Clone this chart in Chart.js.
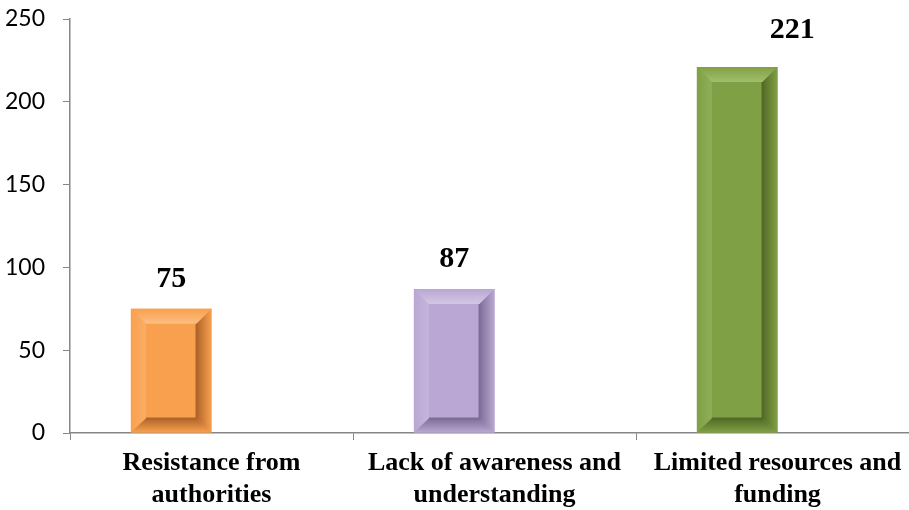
<!DOCTYPE html>
<html>
<head>
<meta charset="utf-8">
<script src="https://cdn.jsdelivr.net/npm/chart.js@4/dist/chart.umd.min.js"></script>
<style>
    html, body { margin: 0; padding: 0; overflow: hidden; background: #fff; }
    #wrap { width: 920px; height: 510px; }
</style>
</head>
<body>
<div id="wrap"><canvas id="barChart"></canvas></div>
<script>
const categories = [
    ["Resistance from", "authorities"],
    ["Lack of awareness and", "understanding"],
    ["Limited resources and", "funding"],
];
const counts = [75, 87, 221];
const yTicks = [0, 50, 100, 150, 200, 250];

// face colours of each bar
const faceColors = ["#F9A04E", "#BAA7D3", "#80A045"];
const lightColors = ["#FBBE84", "#D3C6E4", "#A2BE6E"];
const darkColors = ["#B0652A", "#7E6E96", "#536B28"];
// value label nudges (dx, dy) as placed in the original
const labelNudge = [[0, -30], [0, -30], [55, -37]];

// draws the bevelled frame on top of each bar
const bevelPlugin = {
    id: "bevel",
    afterDatasetsDraw(chart) {
        const ctx = chart.ctx;
        const meta = chart.getDatasetMeta(0);
        meta.data.forEach((bar, i) => {
            const l = bar.x - bar.width / 2;
            const r = bar.x + bar.width / 2;
            const t = bar.y;
            const b = bar.base;
            const s = 15;
            ctx.save();
            // top
            let g = ctx.createLinearGradient(0, t, 0, t + s);
            g.addColorStop(0, faceColors[i]);
            g.addColorStop(1, lightColors[i]);
            ctx.fillStyle = g;
            ctx.beginPath();
            ctx.moveTo(l, t); ctx.lineTo(r, t); ctx.lineTo(r - s, t + s); ctx.lineTo(l + s, t + s);
            ctx.fill();
            // left
            g = ctx.createLinearGradient(l, 0, l + s, 0);
            g.addColorStop(0, faceColors[i]);
            g.addColorStop(1, lightColors[i]);
            ctx.fillStyle = g;
            ctx.globalAlpha = 0.45;
            ctx.beginPath();
            ctx.moveTo(l, t); ctx.lineTo(l + s, t + s); ctx.lineTo(l + s, b - 14); ctx.lineTo(l, b);
            ctx.fill();
            ctx.globalAlpha = 1;
            // right
            g = ctx.createLinearGradient(r - s, 0, r, 0);
            g.addColorStop(0, darkColors[i]);
            g.addColorStop(1, faceColors[i]);
            ctx.fillStyle = g;
            ctx.beginPath();
            ctx.moveTo(r, t); ctx.lineTo(r, b); ctx.lineTo(r - s, b - 14); ctx.lineTo(r - s, t + s);
            ctx.fill();
            // bottom
            g = ctx.createLinearGradient(0, b - 14, 0, b);
            g.addColorStop(0, darkColors[i]);
            g.addColorStop(1, faceColors[i]);
            ctx.fillStyle = g;
            ctx.beginPath();
            ctx.moveTo(l, b); ctx.lineTo(r, b); ctx.lineTo(r - s, b - 14); ctx.lineTo(l + s, b - 14);
            ctx.fill();
            // inner edge shadow
            ctx.strokeStyle = darkColors[i];
            ctx.lineWidth = 2;
            ctx.beginPath();
            ctx.moveTo(r - s, t + s); ctx.lineTo(r - s, b - 14); ctx.lineTo(l + s, b - 14);
            ctx.stroke();

            // value label
            ctx.fillStyle = "#000";
            ctx.font = "bold 30px 'Liberation Serif', 'Times New Roman', serif";
            ctx.textAlign = "center";
            ctx.textBaseline = "middle";
            ctx.fillText(counts[i], bar.x + labelNudge[i][0], t + labelNudge[i][1]);
            ctx.restore();
        });
    },
};

const ctx = document.getElementById("barChart").getContext("2d");
new Chart(ctx, {
    type: "bar",
    data: {
        labels: categories,
        datasets: [
            {
                data: counts,
                backgroundColor: faceColors,
                borderWidth: 0,
                barPercentage: 1,
                categoryPercentage: 0.57,
            },
            {
                // empty second series (keeps bars left of centre as in the original)
                data: [null, null, null],
                barPercentage: 1,
                categoryPercentage: 0.57,
            },
        ],
    },
    options: {
        responsive: true,
        maintainAspectRatio: false,
        animation: false,
        layout: { padding: { top: 0, right: 1, left: 0, bottom: 0 } },
        plugins: {
            legend: { display: false },
            tooltip: { enabled: false },
        },
        scales: {
            x: {
                grid: {
                    drawOnChartArea: false,
                    tickLength: 7,
                    color: "#868686",
                },
                border: { color: "#868686", width: 1.5 },
                ticks: {
                    color: "#000",
                    padding: 8,
                    font: { family: "'Liberation Serif', 'Times New Roman', serif", size: 26, weight: "bold", lineHeight: 1.2 },
                    maxRotation: 0,
                },
                afterFit(scale) { scale.height = 77; },
            },
            y: {
                min: 0,
                max: 250,
                afterBuildTicks(scale) { scale.ticks = yTicks.map((v) => ({ value: v })); },
                grid: {
                    drawOnChartArea: false,
                    tickLength: 7,
                    color: "#868686",
                },
                border: { color: "#868686", width: 1.5 },
                ticks: {
                    color: "#000",
                    padding: 18,
                    font: { family: "Lato, 'Open Sans', sans-serif", size: 23 },
                },
                afterFit(scale) {
                    scale.width = 70;
                    scale.paddingTop = 19;
                    scale.paddingBottom = 0;
                },
            },
        },
    },
    plugins: [bevelPlugin],
});
</script>
</body>
</html>
